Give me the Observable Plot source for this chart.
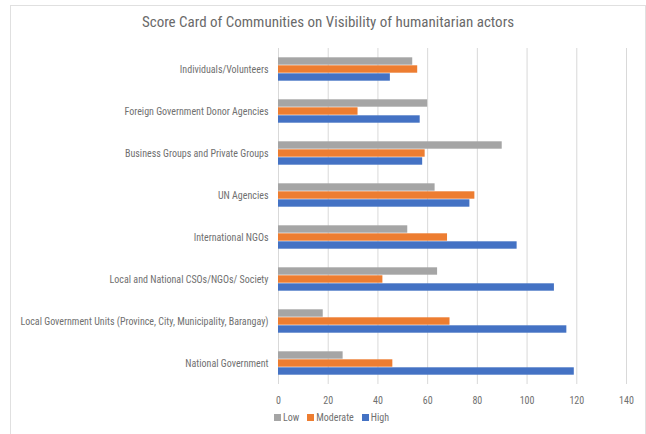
<!DOCTYPE html>
<html>
<head>
<meta charset="utf-8">
<script src="https://cdn.jsdelivr.net/npm/d3@7"></script>
<script src="https://cdn.jsdelivr.net/npm/@observablehq/plot@0.6"></script>
<style>
  html, body { margin: 0; padding: 0; background: #fff; }
  body { width: 646px; height: 434px; overflow: hidden; position: relative;
         font-family: "Roboto Condensed", "Liberation Sans Narrow", "Roboto", sans-serif; }
  #frame { position: absolute; left: 10px; top: 5px; width: 636px; height: 440px;
           border: 1px solid #e0e0e0; box-sizing: border-box; }
  #title { position: absolute; left: 10px; top: 13px; width: 636px; text-align: center;
           font-size: 15px; color: #6a6a6a; }
  #chart { position: absolute; left: 0; top: 40px; }
  #legend { position: absolute; left: 274px; top: 412px; display: flex; gap: 8px;
            font-size: 10px; color: #707070; align-items: center; }
  #legend span.item { display: flex; align-items: center; gap: 2px; }
  #legend span.sw { display: inline-block; width: 7px; height: 7px; }
</style>
</head>
<body>
<div id="frame"></div>
<div id="title">Score Card of Communities on Visibility of humanitarian actors</div>
<div id="chart"></div>
<div id="legend"></div>
<script>
const categories = [
  "Individuals/Volunteers",
  "Foreign Government Donor Agencies",
  "Business Groups and Private Groups",
  "UN Agencies",
  "International NGOs",
  "Local and National CSOs/NGOs/ Society",
  "Local Government Units (Province, City, Municipality, Barangay)",
  "National Government"
];
const series = ["Low", "Moderate", "High"];
const colors = ["#A5A5A5", "#ED7D31", "#4472C4"];
const lowValues      = [54, 60, 90, 63, 52, 64, 18, 26];
const moderateValues = [56, 32, 59, 79, 68, 42, 69, 46];
const highValues     = [45, 57, 58, 77, 96, 111, 116, 119];
const xTicks = [0, 20, 40, 60, 80, 100, 120, 140];

const valuesBySeries = [lowValues, moderateValues, highValues];
const rows = [];
categories.forEach((c, i) => {
  series.forEach((s, j) => rows.push({category: c, series: s, value: valuesBySeries[j][i]}));
});

const chart = Plot.plot({
  width: 646,
  height: 370,
  marginTop: 7,
  marginBottom: 26,
  marginLeft: 278,
  marginRight: 20,
  style: {fontFamily: '"Roboto Condensed", "Liberation Sans Narrow", "Roboto", sans-serif', fontSize: "10px", color: "#707070", background: "transparent"},
  facet: {data: rows, y: "category"},
  fy: {domain: categories, padding: 0, label: null, axis: "left", tickSize: 0, tickPadding: 10},
  y: {domain: series, axis: null, paddingInner: 0, paddingOuter: 0.93},
  x: {domain: [0, 140], ticks: xTicks, label: null, tickSize: 0, tickPadding: 12},
  color: {domain: series, range: colors},
  marks: [
    Plot.ruleX(xTicks, {stroke: "#d9d9d9", strokeWidth: 1}),
    Plot.barX(rows, {x: "value", y: "series", fill: "series", insetTop: 0.3, insetBottom: 0.3})
  ]
});
document.getElementById("chart").appendChild(chart);

const legend = document.getElementById("legend");
series.forEach((s, i) => {
  const item = document.createElement("span");
  item.className = "item";
  const sw = document.createElement("span");
  sw.className = "sw";
  sw.style.background = colors[i];
  item.appendChild(sw);
  item.appendChild(document.createTextNode(s));
  legend.appendChild(item);
});
</script>
</body>
</html>
